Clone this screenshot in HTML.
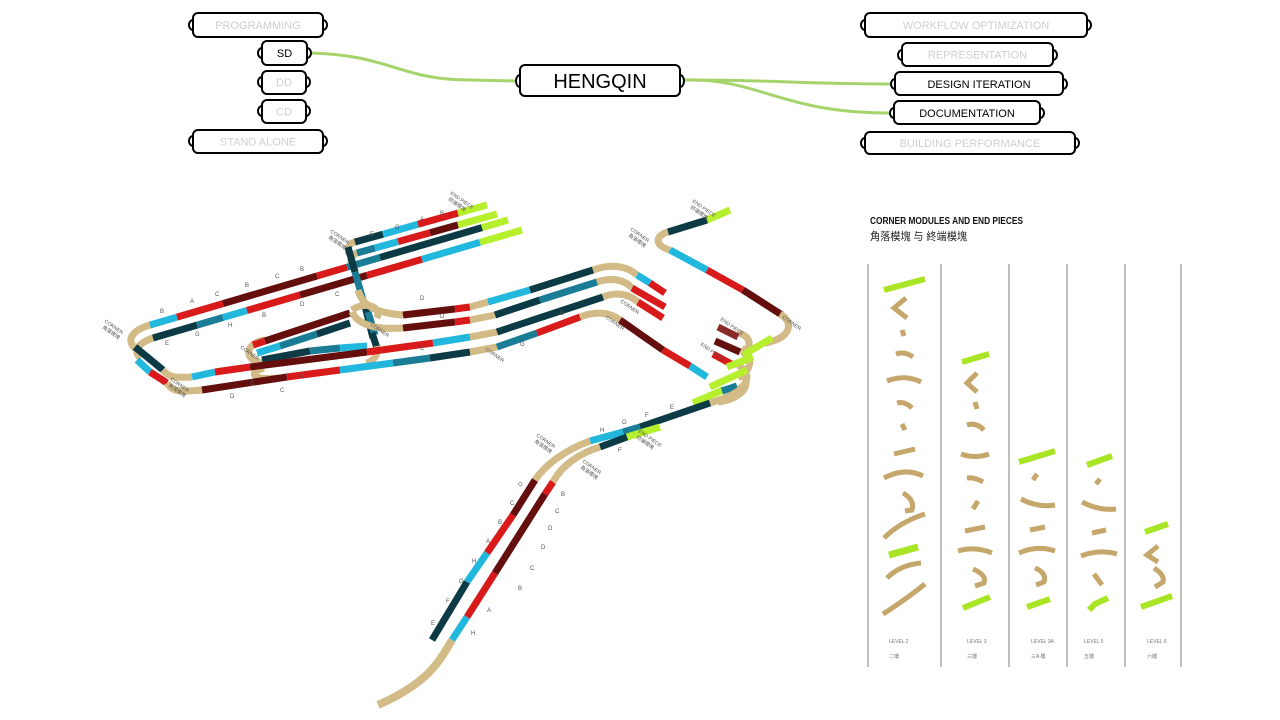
<!DOCTYPE html>
<html><head><meta charset="utf-8">
<style>
html,body{margin:0;padding:0;background:#fff;width:1280px;height:720px;overflow:hidden}
svg{display:block}
.trk path{fill:none;stroke-width:7;stroke-linecap:butt}
.dt{stroke:#0c3a45}.t{stroke:#1b7c95}.c{stroke:#22b8de}.r{stroke:#d81a1a}.dr{stroke:#640e0e}.g{stroke:#b6ef2c}.b{stroke:#d2bb86}.br{stroke:#8b2a2a}
.pc path{fill:none;stroke:#c5a76c;stroke-width:5;stroke-linecap:butt}
.pc path.gg{stroke:#a9e524;stroke-width:6}
.lbl{font-family:"Liberation Sans","Noto Sans CJK SC",sans-serif;font-size:5px;fill:#555}
.nt{font-family:"Liberation Sans",sans-serif;font-size:11px;text-anchor:middle}
</style></head>
<body>
<svg width="1280" height="720" viewBox="0 0 1280 720" xmlns="http://www.w3.org/2000/svg">
<!-- connectors -->
<g fill="none" stroke="#a6d46c" stroke-width="3">
<path d="M311,53 C390,55 400,80 470,80 L517,81"/>
<path d="M684,80 C780,80 800,84 891,84"/>
<path d="M684,80 C760,78 780,113 890,113"/>
</g>
<!-- nodes -->
<g stroke="#000" stroke-width="2" fill="#fff">
<ellipse cx="193" cy="25" rx="4" ry="5"/><ellipse cx="323" cy="25" rx="4" ry="5"/><rect x="193" y="13" width="130" height="24" rx="5"/>
<ellipse cx="262" cy="53" rx="4" ry="5"/><ellipse cx="307" cy="53" rx="4" ry="5"/><rect x="262" y="41" width="45" height="24" rx="5"/>
<ellipse cx="262" cy="82" rx="4" ry="5"/><ellipse cx="306" cy="82" rx="4" ry="5"/><rect x="262" y="71" width="44" height="23" rx="5"/>
<ellipse cx="262" cy="111" rx="4" ry="5"/><ellipse cx="306" cy="111" rx="4" ry="5"/><rect x="262" y="100" width="44" height="23" rx="5"/>
<ellipse cx="193" cy="141" rx="4" ry="5"/><ellipse cx="323" cy="141" rx="4" ry="5"/><rect x="193" y="130" width="130" height="23" rx="5"/>
<ellipse cx="520" cy="81" rx="4" ry="6"/><ellipse cx="680" cy="81" rx="4" ry="6"/><rect x="520" y="65" width="160" height="31" rx="5"/>
<ellipse cx="865" cy="25" rx="4" ry="5"/><ellipse cx="1087" cy="25" rx="4" ry="5"/><rect x="865" y="13" width="222" height="24" rx="5"/>
<ellipse cx="902" cy="55" rx="4" ry="5"/><ellipse cx="1053" cy="55" rx="4" ry="5"/><rect x="902" y="43" width="151" height="23" rx="5"/>
<ellipse cx="895" cy="84" rx="4" ry="5"/><ellipse cx="1063" cy="84" rx="4" ry="5"/><rect x="895" y="72" width="168" height="23" rx="5"/>
<ellipse cx="894" cy="113" rx="4" ry="5"/><ellipse cx="1040" cy="113" rx="4" ry="5"/><rect x="894" y="101" width="146" height="23" rx="5"/>
<ellipse cx="865" cy="143" rx="4" ry="5"/><ellipse cx="1075" cy="143" rx="4" ry="5"/><rect x="865" y="132" width="210" height="22" rx="5"/>
</g>
<g class="nt">
<text x="258" y="29" fill="#cfcfcf">PROGRAMMING</text>
<text x="284.5" y="57" fill="#000">SD</text>
<text x="284" y="86" fill="#cfcfcf">DD</text>
<text x="284" y="115.5" fill="#cfcfcf">CD</text>
<text x="258" y="145.5" fill="#cfcfcf">STAND  ALONE</text>
<text x="600" y="88" fill="#000" style="font-size:20px">HENGQIN</text>
<text x="976" y="29" fill="#cfcfcf">WORKFLOW OPTIMIZATION</text>
<text x="977.5" y="58.5" fill="#cfcfcf">REPRESENTATION</text>
<text x="979" y="88" fill="#000">DESIGN  ITERATION</text>
<text x="967" y="117" fill="#000">DOCUMENTATION</text>
<text x="970" y="147" fill="#cfcfcf">BUILDING  PERFORMANCE</text>
</g>

<!-- main diagram -->
<g class="trk">
<!-- left corner -->
<path class="b" d="M150,325 C133,330 124,340 137,350"/>
<path class="b" d="M153,338 C138,343 132,352 141,358"/>
<path class="dt" d="M135,347 L163,370"/>
<path class="c" d="M137,360 L150,372"/>
<path class="r" d="M150,372 L167,383"/>
<path class="b" d="M163,370 C168,377 175,378 192,377"/>
<path class="b" d="M167,383 C172,392 180,392 202,390"/>
<!-- LT1 -->
<path class="c" d="M150,325 L177,317.1"/>
<path class="r" d="M177,317.1 L223,303.6"/>
<path class="dr" d="M223,303.6 L317,276"/>
<path class="r" d="M317,276 L347,267.2"/>
<path class="t" d="M347,267.2 L380,257.5"/>
<path class="dt" d="M380,257.5 L482,227.6"/>
<path class="g" d="M482,227.6 L508,220"/>
<!-- LT2 -->
<path class="dt" d="M153,338 L197,325.1"/>
<path class="t" d="M197,325.1 L223,317.5"/>
<path class="c" d="M223,317.5 L247,310.5"/>
<path class="r" d="M247,310.5 L300,295"/>
<path class="dr" d="M300,295 L367,275.4"/>
<path class="r" d="M367,275.4 L422,259.3"/>
<path class="c" d="M422,259.3 L480,242.3"/>
<path class="g" d="M480,242.3 L522,230"/>
<!-- T1 T2 -->
<path class="b" d="M349,254 Q346,243 357,241.5"/>
<path class="dt" d="M355,242 L383,234.2"/>
<path class="c" d="M383,234.2 L418,224.3"/>
<path class="r" d="M418,224.3 L458,213.1"/>
<path class="g" d="M458,213.1 L487,205"/>
<path class="b" d="M351,263 Q350,254 359,252.5"/>
<path class="t" d="M357,253 L375,248"/>
<path class="c" d="M375,248 L398,241.6"/>
<path class="r" d="M398,241.6 L430,232.7"/>
<path class="dr" d="M430,232.7 L458,224.9"/>
<path class="g" d="M458,224.9 L497,214"/>
<!-- vertical bar -->
<path class="dt" d="M348,247 L355,272"/>
<path class="t" d="M355,272 L363,300"/>
<path class="r" d="M363,300 L365,306"/>
<path class="dt" d="M365,306 L373,338"/>
<!-- middle loop -->
<path class="b" d="M265,340 C245,343 243,360 262,363"/>
<path class="b" d="M264,368 C246,373 254,381 280,378"/>
<path class="r" d="M253,345 L265,341"/>
<path class="dr" d="M265,341 L350,313"/>
<path class="c" d="M257,353 L280,346"/>
<path class="t" d="M280,346 L317,334"/>
<path class="dt" d="M317,334 L350,323"/>
<path class="dt" d="M262,360 L310,351"/>
<path class="t" d="M310,351 L340,348"/>
<path class="c" d="M340,348 L367,346"/>
<path class="b" d="M352,310 C364,301 382,306 377,318"/>
<path class="t" d="M368,312 L375,335"/>
<path class="dt" d="M372,333 L377,348"/>
<path class="b" d="M377,346 C379,356 372,362 366,363"/>
<!-- S1 -->
<path class="b" d="M358,290 C362,305 375,313 403,315"/>
<path class="dr" d="M403,315 L455,309"/>
<path class="r" d="M455,309 L470,307"/>
<path class="b" d="M470,307 L488,302"/>
<path class="c" d="M488,302 L530,290"/>
<path class="dt" d="M530,290 L593,270"/>
<path class="b" d="M593,270 C610,264 626,265 637,275"/>
<path class="c" d="M637,275 L650,283"/>
<path class="r" d="M650,283 L665,293"/>
<!-- S2 -->
<path class="b" d="M352,312 C358,325 375,330 403,328"/>
<path class="dr" d="M403,328 L455,322"/>
<path class="r" d="M455,322 L470,320"/>
<path class="b" d="M470,320 L495,315"/>
<path class="dt" d="M495,315 L540,300"/>
<path class="t" d="M540,300 L597,282"/>
<path class="b" d="M597,282 C612,277 625,280 632,288"/>
<path class="r" d="M632,288 L665,307"/>
<!-- S3 -->
<path class="c" d="M192,377 L215,372"/>
<path class="r" d="M215,372 L250,367"/>
<path class="dr" d="M250,367 L367,352"/>
<path class="r" d="M367,352 L433,343"/>
<path class="c" d="M433,343 L470,337"/>
<path class="b" d="M470,337 L497,332"/>
<path class="dt" d="M497,332 L603,297"/>
<path class="b" d="M603,297 C615,292 628,293 638,302"/>
<path class="r" d="M638,302 L663,318"/>
<!-- S4 -->
<path class="dr" d="M202,390 L287,377"/>
<path class="r" d="M287,377 L340,370"/>
<path class="c" d="M340,370 L393,363"/>
<path class="t" d="M393,363 L430,358"/>
<path class="dt" d="M430,358 L470,352"/>
<path class="b" d="M470,352 L497,347"/>
<path class="t" d="M497,347 L537,333"/>
<path class="r" d="M537,333 L580,317"/>
<path class="b" d="M580,317 C595,311 610,312 620,320"/>
<path class="dr" d="M620,320 L663,350"/>
<path class="r" d="M663,350 L690,366"/>
<path class="c" d="M690,366 L707,377"/>
<!-- top right track -->
<path class="g" d="M707,220 L730,210"/>
<path class="dt" d="M668,232 L707,220"/>
<path class="b" d="M668,232 C654,236 655,246 670,250"/>
<path class="c" d="M670,250 L707,270"/>
<path class="r" d="M707,270 L743,290"/>
<path class="dr" d="M743,290 L782,315"/>
<path class="b" d="M780,314 C794,322 792,338 765,343"/>
<!-- cluster -->
<path class="b" d="M738,333 C752,336 752,348 742,356"/>
<path class="b" d="M742,348 C754,356 752,370 738,378"/>
<path class="b" d="M738,365 C752,373 750,388 728,393"/>
<path class="b" d="M744,375 C752,390 735,400 718,402"/>
<path class="br" d="M718,327 L738,337"/>
<path class="dr" d="M715,341 L740,352"/>
<path class="r" d="M713,354 L733,365"/>
<path class="g" d="M743,355 L772,338"/>
<path class="g" d="M727,367 L753,357"/>
<path class="g" d="M710,387 L747,370"/>
<path class="g" d="M693,403 L723,390"/>
<path class="t" d="M722,391 L737,386"/>
<!-- lower tracks U -->
<path class="b" d="M710,403 C722,399 733,396 742,388"/>
<path class="dt" d="M640,427 L710,403"/>
<path class="t" d="M623,432 L640,427"/>
<path class="c" d="M590,441 L623,432"/>
<path class="b" d="M590,441 C565,450 545,465 535,480"/>
<path class="dr" d="M535,480 L513,515"/>
<path class="r" d="M513,515 L487,553"/>
<path class="c" d="M487,553 L467,582"/>
<path class="dt" d="M467,582 L432,640"/>
<!-- V -->
<path class="g" d="M627,437 L660,427"/>
<path class="dt" d="M600,447 L627,437"/>
<path class="b" d="M600,447 C580,453 562,465 553,482"/>
<path class="r" d="M553,482 L545,494"/>
<path class="dr" d="M545,494 L495,573"/>
<path class="r" d="M495,573 L467,617"/>
<path class="c" d="M467,617 L452,640"/>
<path class="b" style="stroke-width:8" d="M452,640 C440,660 430,682 378,705"/>
</g>

<!-- labels on diagram -->
<g class="lbl">
<text transform="translate(104,322) rotate(35)">CORNER</text>
<text transform="translate(102,328) rotate(35)">角落模塊</text>
<text transform="translate(170,380) rotate(35)">CORNER</text>
<text transform="translate(168,386) rotate(35)">角落模塊</text>
<text transform="translate(330,232) rotate(35)">CORNER</text>
<text transform="translate(328,238) rotate(35)">角落模塊</text>
<text transform="translate(450,194) rotate(35)">END PIECE</text>
<text transform="translate(448,200) rotate(35)">終端模塊</text>
<text transform="translate(630,230) rotate(35)">CORNER</text>
<text transform="translate(628,236) rotate(35)">角落模塊</text>
<text transform="translate(692,202) rotate(35)">END PIECE</text>
<text transform="translate(690,208) rotate(35)">終端模塊</text>
<text transform="translate(536,436) rotate(35)">CORNER</text>
<text transform="translate(534,442) rotate(35)">角落模塊</text>
<text transform="translate(582,462) rotate(35)">CORNER</text>
<text transform="translate(580,468) rotate(35)">角落模塊</text>
<text transform="translate(638,432) rotate(35)">END PIECE</text>
<text transform="translate(636,438) rotate(35)">終端模塊</text>
<text transform="translate(720,320) rotate(35)">END PIECE</text>
<text transform="translate(700,345) rotate(35)">END PIECE</text>
<text transform="translate(782,318) rotate(35)">CORNER</text>
<text transform="translate(620,302) rotate(35)">CORNER</text>
<text transform="translate(605,318) rotate(35)">CORNER</text>
<text transform="translate(370,325) rotate(35)">CORNER</text>
<text transform="translate(240,348) rotate(35)">CORNER</text>
<text transform="translate(485,350) rotate(35)">CORNER</text>
<g font-size="6">
<text x="521" y="487" transform="rotate(-60 521 487)">D</text>
<text x="510" y="505">C</text><text x="498" y="524">B</text><text x="486" y="543">A</text>
<text x="472" y="563">H</text><text x="459" y="583">G</text><text x="446" y="603">F</text><text x="431" y="625">E</text>
<text x="561" y="496">B</text><text x="555" y="513">C</text><text x="548" y="530">D</text><text x="541" y="549">D</text>
<text x="530" y="570">C</text><text x="518" y="590">B</text><text x="487" y="612">A</text><text x="471" y="635">H</text>
<text x="600" y="432">H</text><text x="622" y="424">G</text><text x="645" y="417">F</text><text x="670" y="409">E</text>
<text x="618" y="452">F</text>
<text x="160" y="313">B</text><text x="190" y="303">A</text><text x="215" y="296">C</text><text x="245" y="287">B</text><text x="275" y="278">C</text><text x="300" y="271">B</text>
<text x="165" y="345">E</text><text x="195" y="336">G</text><text x="228" y="327">H</text><text x="262" y="317">B</text><text x="300" y="306">D</text><text x="335" y="296">C</text>
<text x="370" y="236">E</text><text x="395" y="229">G</text><text x="420" y="221">A</text><text x="440" y="215">B</text>
<text x="420" y="300">D</text><text x="440" y="318">D</text><text x="420" y="350">C</text><text x="520" y="346">G</text><text x="560" y="315">B</text>
<text x="250" y="385">D</text><text x="300" y="378">C</text><text x="230" y="398">D</text><text x="280" y="392">C</text>
</g>
</g>

<!-- right panel -->
<text x="870" y="224" textLength="153" lengthAdjust="spacingAndGlyphs" style="font-family:'Liberation Sans',sans-serif;font-size:10px;font-weight:bold;fill:#111">CORNER MODULES AND END PIECES</text>
<text x="870" y="240" textLength="97" lengthAdjust="spacingAndGlyphs" style="font-family:'Liberation Sans','Noto Sans CJK TC',sans-serif;font-size:11px;fill:#222">角落模塊 与 終端模塊</text>
<g stroke="#a9a9a9" stroke-width="1.5">
<line x1="868" y1="264" x2="868" y2="667"/>
<line x1="941" y1="264" x2="941" y2="667"/>
<line x1="1009" y1="264" x2="1009" y2="667"/>
<line x1="1067" y1="264" x2="1067" y2="667"/>
<line x1="1125" y1="264" x2="1125" y2="667"/>
<line x1="1181" y1="264" x2="1181" y2="667"/>
</g>
<g class="pc">
<path class="gg" d="M884,290 L925,279"/>
<path d="M906,298 L894,308 L907,318"/>
<path d="M902,330 L904,336"/>
<path d="M896,354 Q905,351 913,357"/>
<path d="M887,381 Q905,374 921,382"/>
<path d="M897,403 Q905,401 912,408"/>
<path d="M902,424 L905,430"/>
<path d="M894,454 L915,449"/>
<path d="M884,478 Q905,467 923,476"/>
<path d="M903,493 Q915,500 912,510 L905,511"/>
<path d="M884,538 Q900,522 925,514"/>
<path class="gg" style="stroke-width:7" d="M889,555 L918,547"/>
<path d="M887,578 Q900,565 921,563"/>
<path d="M883,614 Q905,600 925,584"/>

<path class="gg" d="M962,362 L989,354"/>
<path d="M977,373 L967,383 L977,392"/>
<path d="M975,402 L977,409"/>
<path d="M967,425 Q976,422 984,430"/>
<path d="M961,454 Q975,459 989,454"/>
<path d="M967,478 Q975,477 983,482"/>
<path d="M973,509 L978,501"/>
<path d="M965,531 L985,527"/>
<path d="M958,551 Q975,546 992,553"/>
<path d="M973,569 Q987,575 984,583 L975,586"/>
<path class="gg" d="M963,608 L990,597"/>

<path class="gg" d="M1019,462 L1055,451"/>
<path d="M1033,480 L1037,474"/>
<path d="M1021,499 Q1038,508 1055,505"/>
<path d="M1030,530 L1045,527"/>
<path d="M1019,553 Q1037,545 1055,551"/>
<path d="M1035,568 Q1047,573 1044,582 L1036,585"/>
<path class="gg" d="M1027,607 L1050,599"/>

<path class="gg" d="M1087,465 L1112,456"/>
<path d="M1096,484 L1100,479"/>
<path d="M1082,502 Q1099,511 1116,509"/>
<path d="M1092,533 L1106,530"/>
<path d="M1081,556 Q1099,549 1117,554"/>
<path d="M1094,574 L1102,585"/>
<path class="gg" d="M1089,610 L1095,604 L1108,598"/>

<path class="gg" d="M1145,532 L1168,524"/>
<path d="M1158,546 L1147,555 L1158,562"/>
<path d="M1154,568 Q1165,575 1163,582 L1155,587"/>
<path class="gg" d="M1141,607 L1172,596"/>
</g>
<g style="font-family:'Liberation Sans','Noto Sans CJK TC',sans-serif;font-size:5px;fill:#777">
<text x="889" y="643">LEVEL 2</text><text x="889" y="658">二樓</text>
<text x="967" y="643">LEVEL 3</text><text x="967" y="658">三樓</text>
<text x="1031" y="643">LEVEL 3A</text><text x="1031" y="658">三A 樓</text>
<text x="1084" y="643">LEVEL 5</text><text x="1084" y="658">五樓</text>
<text x="1147" y="643">LEVEL 6</text><text x="1147" y="658">六樓</text>
</g>
</svg>
</body></html>
